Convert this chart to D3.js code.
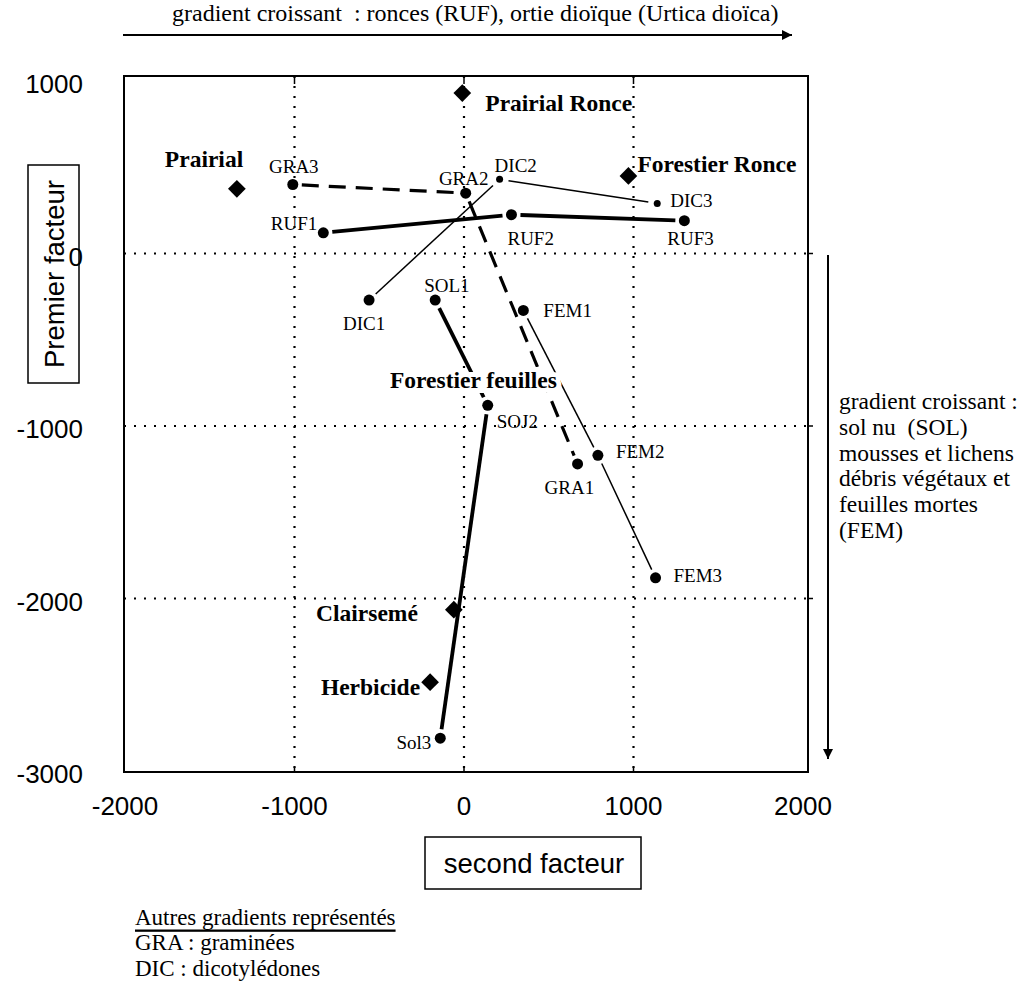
<!DOCTYPE html>
<html>
<head>
<meta charset="utf-8">
<script src="https://cdn.jsdelivr.net/npm/d3@7"></script>
<style>
  body { margin: 0; background: #fff; }
  svg { display: block; }
  text { white-space: pre; }
</style>
</head>
<body>
<svg id="chart" width="1025" height="987"></svg>
<script>
// tick values of both factors
var xTicks = [-2000, -1000, 0, 1000, 2000];
var yTicks = [1000, 0, -1000, -2000, -3000];

// points of the gradients (second facteur, premier facteur)
var ptNames = ["GRA1", "GRA2", "GRA3", "DIC1", "DIC2", "DIC3", "RUF1", "RUF2", "RUF3",
               "SOL1", "SOJ2", "Sol3", "FEM1", "FEM2", "FEM3"];
var ptX = [670, 10, -1010, -560, 210, 1140, -830, 280, 1300, -170, 140, -140, 350, 790, 1130];
var ptY = [-1220, 350, 400, -270, 430, 290, 120, 225, 190, -270, -880, -2810, -330, -1170, -1880];

// gradient chains
var graChain = ["GRA3", "GRA2", "GRA1"];
var dicChain = ["DIC1", "DIC2", "DIC3"];
var rufChain = ["RUF1", "RUF2", "RUF3"];
var solChain = ["SOL1", "SOJ2", "Sol3"];
var femChain = ["FEM1", "FEM2", "FEM3"];

// sites (diamonds)
var siteNames = ["Prairial Ronce", "Prairial", "Forestier Ronce", "Clairsemé", "Herbicide"];
var siteX = [-10, -1340, 970, -60, -200];
var siteY = [930, 375, 450, -2065, -2485];

var svg = d3.select("#chart");
var serif = "'Liberation Serif', 'Times New Roman', serif";
var sans = "'Liberation Sans', Arial, sans-serif";

var x = d3.scaleLinear().domain([-2000, 2000]).range([125, 803]);
var y = d3.scaleLinear().domain([-3000, 1000]).range([771, 81]);
var boxL = 124, boxR = 808, boxT = 76, boxB = 772;

// dotted grid
var grid = svg.append("g");
grid.selectAll(".gx").data([-1000, 0, 1000]).enter().append("line")
    .attr("x1", function(d){ return x(d); }).attr("x2", function(d){ return x(d); })
    .attr("y1", boxT).attr("y2", boxB)
    .attr("stroke", "#000").attr("stroke-width", 2.2).attr("stroke-dasharray", "2,8");
grid.selectAll(".gy").data([0, -1000, -2000]).enter().append("line")
    .attr("y1", function(d){ return y(d); }).attr("y2", function(d){ return y(d); })
    .attr("x1", boxL).attr("x2", boxR)
    .attr("stroke", "#000").attr("stroke-width", 2.2).attr("stroke-dasharray", "2,8");

// frame
svg.append("rect").attr("x", boxL).attr("y", boxT)
    .attr("width", boxR - boxL).attr("height", boxB - boxT)
    .attr("fill", "none").attr("stroke", "#000").attr("stroke-width", 2);

// small ticks on the frame
[-1000, 0, 1000].forEach(function(v){
    svg.append("line").attr("x1", x(v)).attr("x2", x(v)).attr("y1", boxT).attr("y2", boxT + 8)
        .attr("stroke", "#000").attr("stroke-width", 1.5);
    svg.append("line").attr("x1", x(v)).attr("x2", x(v)).attr("y1", boxB).attr("y2", boxB - 5)
        .attr("stroke", "#000").attr("stroke-width", 1.5);
});
[0, -1000, -2000].forEach(function(v){
    svg.append("line").attr("x1", boxR).attr("x2", boxR + 5).attr("y1", y(v)).attr("y2", y(v))
        .attr("stroke", "#000").attr("stroke-width", 1.5);
});

// tick labels
svg.append("g").selectAll("text").data(xTicks).enter().append("text")
    .attr("x", function(d){ return x(d); }).attr("y", 806)
    .attr("text-anchor", "middle").attr("dominant-baseline", "central")
    .style("font-family", sans).style("font-size", "26px")
    .text(function(d){ return d; });
svg.append("g").selectAll("text").data(yTicks).enter().append("text")
    .attr("x", 83).attr("y", function(d){ return y(d) + 3; })
    .attr("text-anchor", "end").attr("dominant-baseline", "central")
    .style("font-family", sans).style("font-size", "26px")
    .text(function(d){ return d; });

// axis titles in boxes
svg.append("rect").attr("x", 28).attr("y", 165).attr("width", 51).attr("height", 218)
    .attr("fill", "none").attr("stroke", "#000").attr("stroke-width", 1.5);
svg.append("text").attr("transform", "translate(54,274) rotate(-90)")
    .attr("text-anchor", "middle").attr("dominant-baseline", "central")
    .style("font-family", sans).style("font-size", "27.5px").text("Premier facteur");
svg.append("rect").attr("x", 425).attr("y", 837).attr("width", 216).attr("height", 52)
    .attr("fill", "none").attr("stroke", "#000").attr("stroke-width", 1.5);
svg.append("text").attr("x", 534).attr("y", 863)
    .attr("text-anchor", "middle").attr("dominant-baseline", "central")
    .style("font-family", sans).style("font-size", "27.5px").text("second facteur");

// lookup of points
var pts = {};
ptNames.forEach(function(n, i){ pts[n] = [x(ptX[i]), y(ptY[i])]; });

// segments, shortened a little at both ends
function drawChain(chain, width, dash){
    for (var i = 0; i < chain.length - 1; i++){
        var a = pts[chain[i]], b = pts[chain[i + 1]];
        var dx = b[0] - a[0], dy = b[1] - a[1];
        var len = Math.sqrt(dx*dx + dy*dy), g = 9;
        svg.append("line")
            .attr("x1", a[0] + dx*g/len).attr("y1", a[1] + dy*g/len)
            .attr("x2", b[0] - dx*g/len).attr("y2", b[1] - dy*g/len)
            .attr("stroke", "#000").attr("stroke-width", width)
            .attr("stroke-dasharray", dash);
    }
}
drawChain(graChain, 3.2, "17,10");
drawChain(dicChain, 1.5, null);
drawChain(rufChain, 3.8, null);
drawChain(solChain, 3.8, null);
drawChain(femChain, 1.5, null);

// label "Forestier feuilles" cuts the lines
svg.append("text").attr("x", 390).attr("y", 388)
    .style("font-family", serif).style("font-size", "23.5px").style("font-weight", "bold")
    .attr("stroke", "#fff").attr("stroke-width", 10).attr("paint-order", "stroke")
    .attr("fill", "#000").text("Forestier feuilles");

// points
var smallDots = {"DIC2": 1, "DIC3": 1};
svg.append("g").selectAll("circle").data(ptNames).enter().append("circle")
    .attr("cx", function(d){ return pts[d][0]; })
    .attr("cy", function(d){ return pts[d][1]; })
    .attr("r", function(d){ return smallDots[d] ? 3.5 : 5.5; })
    .attr("fill", "#000");

// point labels: [dx, dy, anchor]
var ptLabelPos = {
    "GRA1": [-33, 24, "start"], "GRA2": [-2, -15, "middle"], "GRA3": [1, -18, "middle"],
    "DIC1": [-5, 23, "middle"], "DIC2": [-5, -14, "start"], "DIC3": [13, -3, "start"],
    "RUF1": [-6, -9, "end"], "RUF2": [-4, 24, "start"], "RUF3": [-17, 18, "start"],
    "SOL1": [-11, -15, "start"], "SOJ2": [9, 16, "start"], "Sol3": [-9, 4, "end"],
    "FEM1": [20, 0, "start"], "FEM2": [18, -4, "start"], "FEM3": [18, -2, "start"]
};
svg.append("g").selectAll("text").data(ptNames).enter().append("text")
    .attr("x", function(d){ return pts[d][0] + ptLabelPos[d][0]; })
    .attr("y", function(d){ return pts[d][1] + ptLabelPos[d][1]; })
    .attr("text-anchor", function(d){ return ptLabelPos[d][2]; })
    .attr("dominant-baseline", "central")
    .style("font-family", serif).style("font-size", "19px")
    .text(function(d){ return d; });

// sites
var siteLabelPos = {
    "Prairial Ronce": [23, 10, "start"], "Prairial": [-72, -30, "start"],
    "Forestier Ronce": [9, -12, "start"], "Clairsemé": [-36, 3, "end"],
    "Herbicide": [-10, 5, "end"]
};
var diamond = d3.symbol().type(d3.symbolDiamond2).size(200);
siteNames.forEach(function(n, i){
    var sx = x(siteX[i]), sy = y(siteY[i]);
    svg.append("path").attr("d", diamond)
        .attr("transform", "translate(" + sx + "," + sy + ")").attr("fill", "#000");
    var p = siteLabelPos[n];
    svg.append("text").attr("x", sx + p[0]).attr("y", sy + p[1])
        .attr("text-anchor", p[2]).attr("dominant-baseline", "central")
        .style("font-family", serif).style("font-size", "23.5px").style("font-weight", "bold")
        .text(n);
});

// arrowheads
svg.append("defs").append("marker").attr("id", "arr")
    .attr("viewBox", "0 0 10 10").attr("refX", 10).attr("refY", 5)
    .attr("markerWidth", 16).attr("markerHeight", 10).attr("markerUnits", "userSpaceOnUse")
    .attr("orient", "auto")
    .append("path").attr("d", "M0,0 L10,5 L0,10 Z").attr("fill", "#000");

// top gradient
svg.append("line").attr("x1", 123).attr("y1", 35).attr("x2", 792).attr("y2", 35)
    .attr("stroke", "#000").attr("stroke-width", 2).attr("marker-end", "url(#arr)");
svg.append("text").attr("x", 172).attr("y", 13).attr("dominant-baseline", "central")
    .style("font-family", serif).style("font-size", "24px")
    .text("gradient croissant  : ronces (RUF), ortie dioïque (Urtica dioïca)");

// right gradient
svg.append("line").attr("x1", 828).attr("y1", 255).attr("x2", 828).attr("y2", 759)
    .attr("stroke", "#000").attr("stroke-width", 2).attr("marker-end", "url(#arr)");
var rightLines = ["gradient croissant :", "sol nu  (SOL)", "mousses et lichens",
                  "débris végétaux et", "feuilles mortes", "(FEM)"];
svg.append("g").selectAll("text").data(rightLines).enter().append("text")
    .attr("x", 839).attr("y", function(d, i){ return 401 + i*25.8; })
    .attr("dominant-baseline", "central")
    .style("font-family", serif).style("font-size", "23.5px")
    .text(function(d){ return d; });

// other gradients
var noteLines = ["Autres gradients représentés", "GRA : graminées", "DIC : dicotylédones"];
svg.append("g").selectAll("text").data(noteLines).enter().append("text")
    .attr("x", 135).attr("y", function(d, i){ return 917 + i*25.8; })
    .attr("dominant-baseline", "central")
    .style("font-family", serif).style("font-size", "23px")
    .style("text-decoration", function(d, i){ return i == 0 ? "underline" : null; })
    .text(function(d){ return d; });
</script>
</body>
</html>
